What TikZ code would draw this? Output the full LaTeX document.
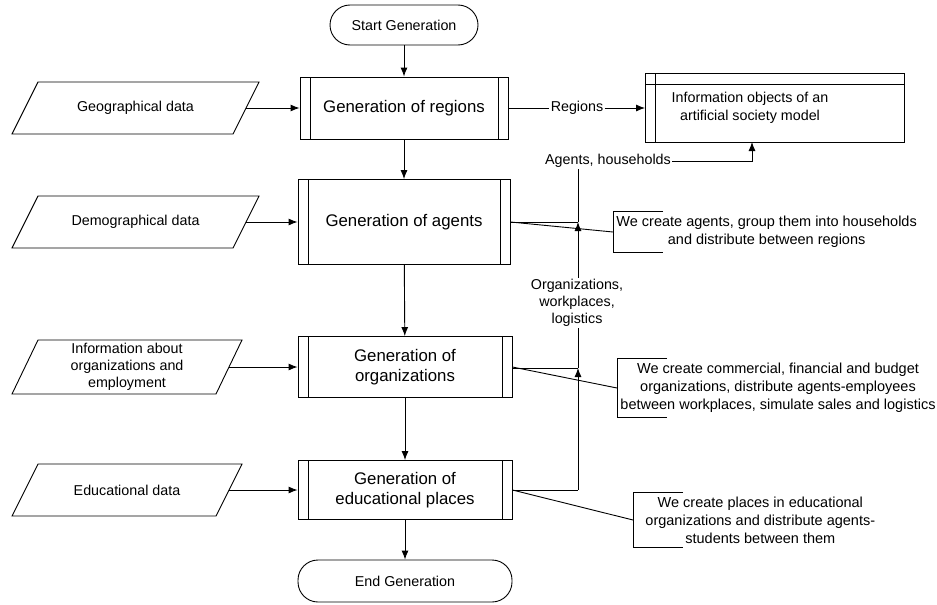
\documentclass[tikz,border=0pt]{standalone}
\usepackage{fontspec}
\setmainfont{Liberation Sans}
\usepackage{tikz}
\usetikzlibrary{arrows.meta}
\tikzstyle{line} = [draw, -{Latex[length=9pt,width=7pt]}]
\tikzstyle{terminal}=[draw,rectangle,rounded corners=20pt,font=\fontsize{14.3}{17}\selectfont]
\tikzstyle{process}=[draw,rectangle,align=center,font=\fontsize{16.8}{20}\selectfont,
  path picture={\draw ([xshift=10pt]path picture bounding box.north west) -- ([xshift=10pt]path picture bounding box.south west);
                \draw ([xshift=-10pt]path picture bounding box.north east) -- ([xshift=-10pt]path picture bounding box.south east);}]
\tikzstyle{datain}=[rectangle,outer sep=0pt,align=center,minimum height=52pt,font=\fontsize{14.3}{17}\selectfont]
\tikzstyle{storage}=[draw,rectangle,font=\fontsize{14.3}{18}\selectfont,
  path picture={\draw ([yshift=-11pt]path picture bounding box.north west) -- ([yshift=-11pt]path picture bounding box.north east);
                \draw ([xshift=10pt]path picture bounding box.north west) -- ([xshift=10pt]path picture bounding box.south west);}]
\tikzstyle{flowlabel}=[align=center,inner sep=1pt,font=\fontsize{14.3}{17}\selectfont]
\tikzstyle{note}=[anchor=west,align=center,inner xsep=3pt,inner ysep=4pt,font=\fontsize{14.5}{18}\selectfont]

\begin{document}
\begin{tikzpicture}[x=1pt,y=-1pt,line width=0.9pt]
  \useasboundingbox (0,0) rectangle (937,605);

  % main chain
  \node[terminal,minimum width=148pt,minimum height=40pt] (start) at (404,25) {Start Generation};
  \node[process,minimum width=208pt,minimum height=62pt] (regions) at (404,108) {Generation of regions};
  \node[process,minimum width=212pt,minimum height=85pt] (agents) at (404,222) {Generation of agents};
  \node[process,minimum width=214pt,minimum height=61pt] (orgs) at (405,367) {Generation of\\organizations};
  \node[process,minimum width=214pt,minimum height=59pt] (educ) at (405,490) {Generation of\\educational places};
  \node[terminal,minimum width=214pt,minimum height=42pt] (endgen) at (405,581) {End Generation};

  % input data (parallelograms drawn below)
  \node[datain,minimum width=247pt] (geodata) at (135.5,108) {Geographical data};
  \node[datain,minimum width=247pt] (demodata) at (135.5,222) {Demographical data};
  \node[datain,minimum width=230pt] (orgdata) at (127,367) {Information about\\organizations and\\employment};
  \node[datain,minimum width=230pt] (educdata) at (127,490) {Educational data};
  \foreach \n in {geodata,demodata,orgdata,educdata}
    \draw ([xshift=26pt]\n.north west) -- (\n.north east) -- ([xshift=-26pt]\n.south east) -- (\n.south west) -- cycle;

  \node[storage,minimum width=259pt,minimum height=69pt] (infoobj) at (775,108)
    {\begin{tabular}{@{}c@{}}Information objects of an\\artificial society model\end{tabular}\hspace*{50pt}\mbox{}};

  \node[flowlabel,fill=white] (regionslbl) at (577,108) {Regions};
  \node[flowlabel] (agentslbl) at (608,161) {Agents, households};
  \node[flowlabel] (orgslbl) at (577,303) {Organizations,\\workplaces,\\logistics};

  \coordinate (agentsjoin) at (578,222);
  \coordinate (orgsjoin) at (578,368);
  \coordinate (educjoin) at (578,490);
  \coordinate (infoin) at (752,142);

  \node[note] (agentsnote) at (613,232) {We create agents, group them into households\\and distribute between regions};
  \node[note] (orgsnote) at (617,388) {We create commercial, financial and budget\\organizations, distribute agents-employees\\between workplaces, simulate sales and logistics};
  \node[note,inner xsep=12pt] (educnote) at (633,520) {We create places in educational\\organizations and distribute agents-\\students between them};

  \path [line] (start) -- (regions);
  \path [line] (regions) -- (agents);
  \path [line] (agents) -- (orgs);
  \path [line] (orgs) -- (educ);
  \path [line] (educ) -- (endgen);

  \path [line] ([xshift=-13pt]geodata.east) -- (regions.west);
  \path [line] ([xshift=-13pt]demodata.east) -- (agents.west);
  \path [line] ([xshift=-13pt]orgdata.east) -- (orgs.west);
  \path [line] ([xshift=-13pt]educdata.east) -- (educ.west);

  \draw (regions.east) -- (regionslbl);
  \path [line] (regionslbl) -- (infoobj.west |- regionslbl);

  % flows into the information objects
  \draw (educ.east |- educjoin) -- (educjoin);
  \path [line] (educjoin) -- (orgsjoin);
  \draw (orgs.east |- orgsjoin) -- (orgsjoin);
  \draw (orgsjoin) -- (orgsjoin |- orgslbl.south);
  \path [line] (agentsjoin |- orgslbl.north) -- (agentsjoin);
  \draw (agents.east |- agentsjoin) -- (agentsjoin);
  \draw (agentsjoin) -- (agentsjoin |- agentslbl.south);
  \path [line] (agentslbl.east) -| (infoin);

  % notes
  \draw (agents.east) -- (agentsnote.west);
  \draw (orgs.east) -- (orgsnote.west);
  \draw (educ.east) -- (educnote.west);
  \foreach \n in {agentsnote,orgsnote,educnote}
    \draw ([xshift=50pt]\n.north west) -- (\n.north west) -- (\n.south west) -- ([xshift=50pt]\n.south west);

\end{tikzpicture}
\end{document}
